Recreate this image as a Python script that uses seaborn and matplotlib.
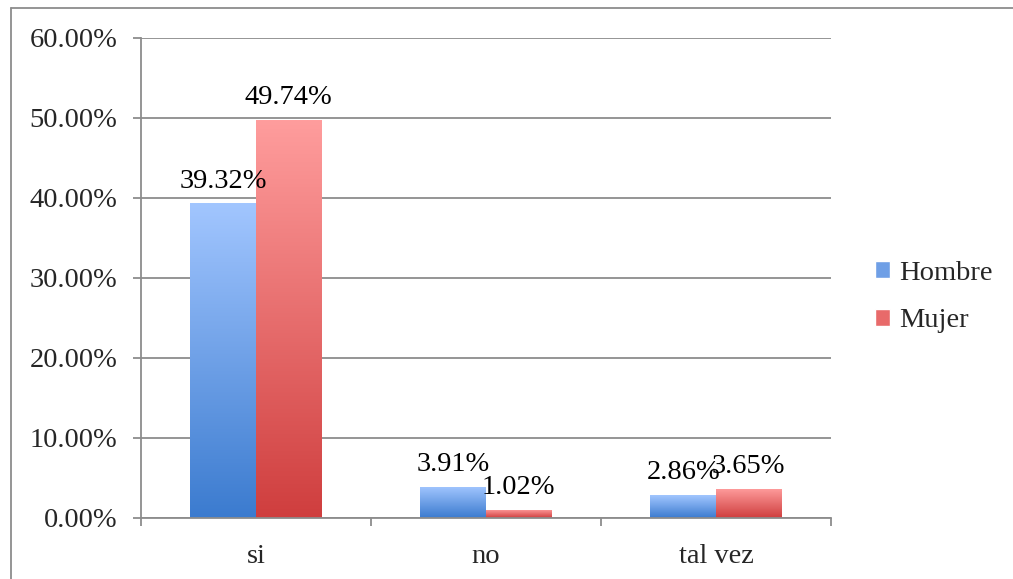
import numpy as np
import pandas as pd
import matplotlib
matplotlib.use('Agg')
import matplotlib.pyplot as plt
from matplotlib.colors import LinearSegmentedColormap
from matplotlib.patches import Patch
from matplotlib.lines import Line2D
import seaborn as sns

# データ
categories = ['si', 'no', 'tal vez']
hombre = [39.32, 3.91, 2.86]
mujer = [49.74, 1.02, 3.65]
series_names = ['Hombre', 'Mujer']
y_ticks = [0, 10, 20, 30, 40, 50, 60]

# グラデーション（上: 明, 下: 暗）
grad = {
    'Hombre': ('#a2c6ff', '#3b7bcf'),
    'Mujer': ('#ff9d9d', '#cf3e3e'),
}
FS = 20.5

df = pd.DataFrame({
    'cat': categories * 2,
    'val': hombre + mujer,
    'serie': ['Hombre'] * 3 + ['Mujer'] * 3,
})

sns.set_style('white')
plt.rcParams['font.family'] = ['Liberation Serif', 'DejaVu Serif']

fig = plt.figure(figsize=(10.13, 5.79), dpi=100)
ax = fig.add_axes([0.1392, 0.1054, 0.8203 - 0.1392, 0.9344 - 0.1054])

sns.barplot(data=df, x='cat', y='val', hue='serie', order=categories,
            hue_order=series_names, width=0.57, gap=0,
            palette=[grad['Hombre'][1], grad['Mujer'][1]],
            linewidth=0, ax=ax, legend=False)

# バーをグラデーションで塗る
for container, name in zip(ax.containers, series_names):
    cmap = LinearSegmentedColormap.from_list(name, [grad[name][1], grad[name][0]])
    for p in container.patches:
        x0, y0 = p.get_x(), p.get_y()
        w, h = p.get_width(), p.get_height()
        g = np.linspace(0, 1, 256).reshape(-1, 1)
        im = ax.imshow(g, cmap=cmap, origin='lower', aspect='auto',
                       extent=[x0, x0 + w, y0, y0 + h], zorder=p.get_zorder() + 0.1)
        im.set_clip_path(p)
    ax.bar_label(container, labels=[f'{v:.2f}%' for v in container.datavalues],
                 padding=7, fontsize=FS, color='black')

ax.set_xlim(-0.5, 2.5)
ax.set_ylim(0, 60)
ax.set_yticks(y_ticks)
ax.set_yticklabels([f'{t:.2f}%' for t in y_ticks], fontsize=FS)
ax.yaxis.grid(True, color='#8c8c8c', linewidth=1.3)
ax.set_axisbelow(True)

# x軸: 区切り目盛り + 中央ラベル
ax.set_xticks([-0.5, 0.5, 1.5, 2.5])
ax.set_xticklabels([])
ax.set_xticks([0, 1, 2], minor=True)
ax.set_xticklabels(categories, minor=True, fontsize=FS)
ax.tick_params(axis='x', which='major', direction='out', length=5.8, width=1.3, color='#8c8c8c', bottom=True)
ax.tick_params(axis='x', which='minor', length=0, pad=19)
ax.tick_params(axis='y', direction='out', length=5.8, width=1.3, color='#8c8c8c', left=True, pad=11)
ax.set_xlabel('')
ax.set_ylabel('')

for s in ['top', 'right']:
    ax.spines[s].set_visible(False)
for s in ['left', 'bottom']:
    ax.spines[s].set_color('#8c8c8c')
    ax.spines[s].set_linewidth(1.3)

handles = [Patch(facecolor='#6f9fe6', label='Hombre'),
           Patch(facecolor='#e86a6a', label='Mujer')]
fig.legend(handles=handles, loc='center left', bbox_to_anchor=(0.838, 0.487),
           frameon=False, fontsize=FS, handlelength=0.55, handleheight=0.55,
           handletextpad=0.3, labelspacing=0.8)

# 外枠（左・上のみ見える）
fig.add_artist(Line2D([11 / 1013, 11 / 1013], [0, 1 - 8 / 579],
                      transform=fig.transFigure, color='#8c8c8c', linewidth=1.3))
fig.add_artist(Line2D([11 / 1013, 1], [1 - 8 / 579, 1 - 8 / 579],
                      transform=fig.transFigure, color='#8c8c8c', linewidth=1.3))

fig.savefig('out.png', dpi=100)
